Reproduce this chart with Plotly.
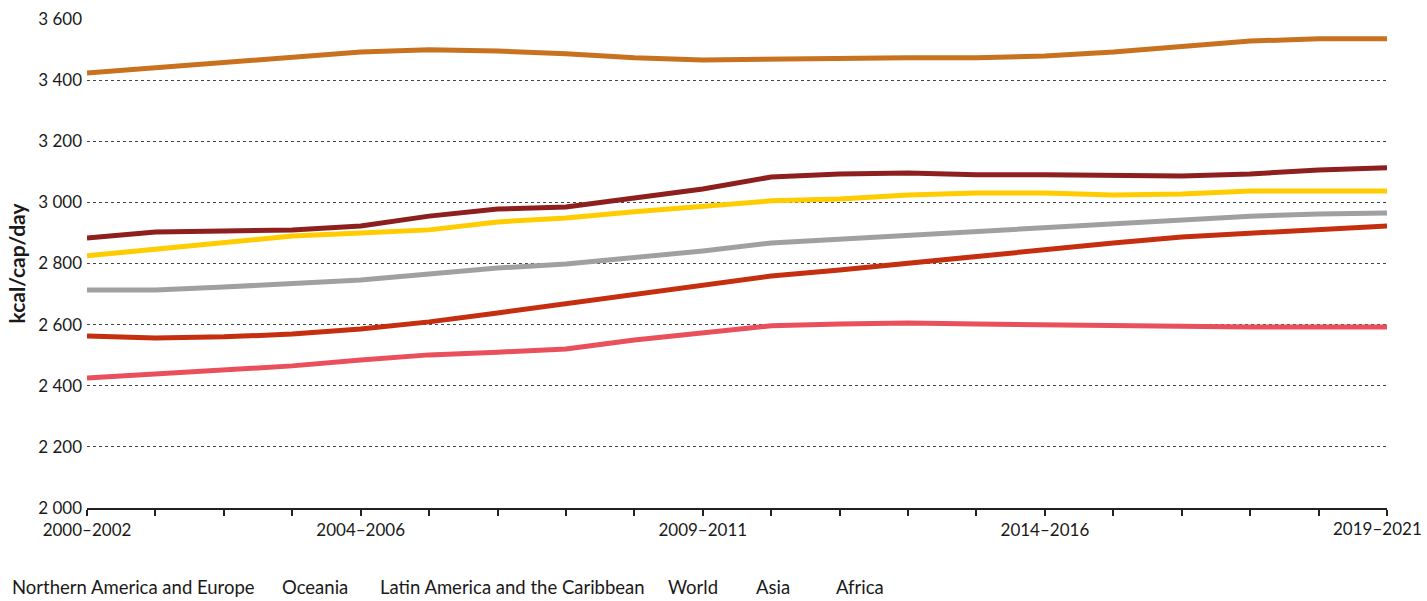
import plotly.graph_objects as go

periods = [f"{y}\u2013{y+2}" for y in range(2000, 2020)]
shown_labels = ["2000\u20132002", "2004\u20132006", "2009\u20132011", "2014\u20132016"]
last_label = "2019\u20132021"

na_europe = [3423, 3440, 3459, 3476, 3492, 3499, 3495, 3486, 3473, 3466,
             3469, 3473, 3473, 3473, 3479, 3492, 3512, 3528, 3535, 3535]
oceania = [2883, 2903, 2906, 2910, 2923, 2955, 2978, 2985, 3014, 3044,
           3083, 3093, 3096, 3090, 3090, 3086, 3086, 3093, 3106, 3113]
latam = [2825, 2847, 2870, 2890, 2900, 2910, 2936, 2949, 2969, 2988,
         3005, 3011, 3024, 3031, 3031, 3024, 3027, 3037, 3037, 3037]
world = [2713, 2713, 2723, 2733, 2746, 2766, 2785, 2798, 2818, 2841,
         2867, 2880, 2890, 2903, 2916, 2929, 2942, 2955, 2962, 2965]
asia = [2563, 2556, 2560, 2569, 2586, 2609, 2638, 2668, 2697, 2726,
        2759, 2779, 2802, 2821, 2844, 2867, 2887, 2900, 2910, 2923]
africa = [2425, 2438, 2448, 2465, 2484, 2501, 2510, 2520, 2550, 2573,
          2596, 2602, 2605, 2602, 2599, 2596, 2592, 2592, 2592, 2592]

series_names = ["Northern America and Europe", "Oceania", "Latin America and the Caribbean",
                "World", "Asia", "Africa"]
series_values = [na_europe, oceania, latam, world, asia, africa]
colors = ["#C8711F", "#8E1F1F", "#FFCC00", "#A0A0A0", "#C52E0F", "#E9505C"]

FONT = "Lato"
L, R, T, B = 87, 40, 19, 93
W, H = 1427, 601
PW, PH = W - L - R, H - T - B

fig = go.Figure()
xs = list(range(len(periods)))
for name, vals, col in zip(series_names, series_values, colors):
    fig.add_trace(go.Scatter(x=xs, y=vals, name=name, mode="lines",
                             line=dict(color=col, width=5), showlegend=False, cliponaxis=False,
                             hovertemplate="%{y}<extra>" + name + "</extra>"))

ticktext = [p if p in shown_labels else "" for p in periods]

fig.update_layout(
    width=W, height=H,
    margin=dict(l=L, r=R, t=T, b=B, autoexpand=False),
    plot_bgcolor="white", paper_bgcolor="white",
    separators=". ",
    font=dict(family=FONT, size=17, color="#1a1a1a"),
    xaxis=dict(range=[0, len(periods) - 1], tickmode="array", tickvals=xs, ticktext=ticktext,
               showgrid=False, showline=True, linecolor="#222", linewidth=1.5,
               ticks="outside", ticklen=6, tickcolor="#222", tickwidth=1.5,
               tickfont=dict(size=17), zeroline=False, automargin=False),
    yaxis=dict(range=[2000, 3600], tickvals=[2000, 2200, 2400, 2600, 2800, 3000, 3200, 3400, 3600],
               tickformat=",d", showgrid=True, gridcolor="#444", griddash="dot", gridwidth=1,
               zeroline=False, ticks="", ticklabelstandoff=4, automargin=False,
               title=dict(text="<b>kcal/cap/day</b>", font=dict(size=21), standoff=6),
               tickfont=dict(size=17)),
)

# last x tick label, kept inside the page like the reference
fig.add_annotation(text=last_label, xref="paper", yref="paper",
                   x=(1424 - L) / PW, y=(H - B - 528) / PH,
                   xanchor="right", yanchor="middle", showarrow=False,
                   font=dict(family=FONT, size=17, color="#1a1a1a"))

legend_x = [10, 280, 378, 666, 754, 834]
for name, px in zip(series_names, legend_x):
    fig.add_annotation(text=name, xref="paper", yref="paper",
                       x=(px - L) / PW, y=(H - B - 587) / PH,
                       xanchor="left", yanchor="middle", showarrow=False,
                       font=dict(family=FONT, size=18.5, color="#1a1a1a"))

fig.write_html("out.html", config={"displayModeBar": False},
               post_script="document.body.style.margin='0';document.body.style.overflow='hidden';")
